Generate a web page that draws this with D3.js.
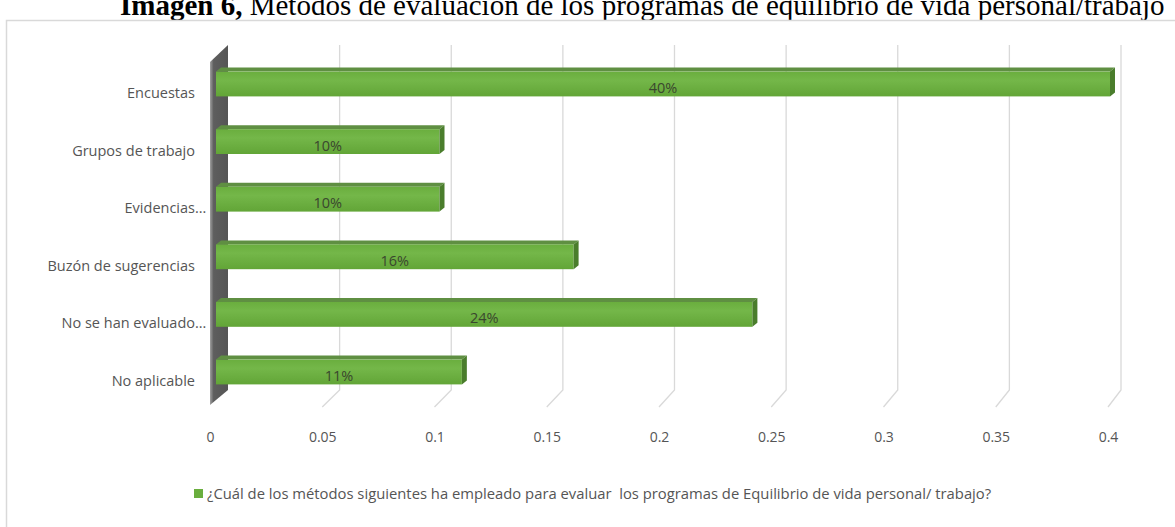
<!DOCTYPE html>
<html><head><meta charset="utf-8">
<script src="https://cdn.jsdelivr.net/npm/d3@7"></script>
<style>body{margin:0;background:#fff}svg{display:block}</style>
</head><body>
<svg id="c" width="1175" height="527"></svg>
<script>
const categories = ["Encuestas","Grupos de trabajo","Evidencias…","Buzón de sugerencias","No se han evaluado…","No aplicable"];
const values = [0.40,0.10,0.10,0.16,0.24,0.11];
const valueLabels = ["40%","10%","10%","16%","24%","11%"];
const tickValues = [0,0.05,0.1,0.15,0.2,0.25,0.3,0.35,0.4];
const tickLabels = ["0","0.05","0.1","0.15","0.2","0.25","0.3","0.35","0.4"];
const seriesName = "¿Cuál de los métodos siguientes ha empleado para evaluar  los programas de Equilibrio de vida personal/ trabajo?";
const titleBold = "Imagen 6, ";
const titleRest = "Métodos de evaluación de los programas de equilibrio de vida personal/trabajo";

const svg = d3.select("#c");
const font = "'Open Sans', sans-serif";
const grey = "#555555";

// title (partially cut off at top, as in the reference)
const t = svg.append("text").attr("x",120).attr("y",15)
  .attr("font-family","'Liberation Serif', 'Times New Roman', serif").attr("font-size",29).attr("fill","#000");
t.append("tspan").attr("font-weight","bold").text(titleBold);
t.append("tspan").text(titleRest);

// frame
svg.append("rect").attr("x",6.5).attr("y",20.5).attr("width",1180).attr("height",520)
  .attr("fill","#fff").attr("stroke","#d9d9d9").attr("stroke-width",1.5);

const xFront = d3.scaleLinear().domain([0,0.4]).range([210,1108]);
const xBack  = d3.scaleLinear().domain([0,0.4]).range([228,1121]);
const xBar   = d3.scaleLinear().domain([0,0.4]).range([216,1110]);
const y = d3.scaleBand().domain(categories).range([53.2,398.8]).paddingInner(0.5).paddingOuter(0.25);

const topY = 45, backFloor = 390, frontFloor = 407;

// gridlines
const grid = svg.append("g");
tickValues.forEach(v=>{
  if (v===0) return;
  grid.append("path")
    .attr("d",`M${xBack(v)},${topY}L${xBack(v)},${backFloor}L${xFront(v)},${frontFloor}`)
    .attr("fill","none").attr("stroke","#d9d9d9").attr("stroke-width",1.3);
});

// wall
const defs = svg.append("defs");
const wg = defs.append("linearGradient").attr("id","wg").attr("x1","0").attr("x2","1").attr("y1","0").attr("y2","0");
wg.append("stop").attr("offset","0").attr("stop-color","#a0a0a0");
wg.append("stop").attr("offset","0.2").attr("stop-color","#5e5e5e");
wg.append("stop").attr("offset","1").attr("stop-color","#555555");
svg.append("path")
  .attr("d",`M${xFront(0)},${62}L${xBack(0)},${topY}L${xBack(0)},${backFloor}L${xFront(0)},${frontFloor-2}Z`)
  .attr("fill","url(#wg)");

const bg = defs.append("linearGradient").attr("id","bg").attr("x1","0").attr("x2","0").attr("y1","0").attr("y2","1");
bg.append("stop").attr("offset","0").attr("stop-color","#6aae3e");
bg.append("stop").attr("offset","0.35").attr("stop-color","#74b749");
bg.append("stop").attr("offset","1").attr("stop-color","#62a537");

const dx = 5, dy = 4;
const bars = svg.append("g");
categories.forEach((c,i)=>{
  const y0 = y(c), h = y.bandwidth();
  const x0 = xBar(0), x1 = xBar(values[i]);
  bars.append("path").attr("d",`M${x0},${y0+dy}L${x1},${y0+dy}L${x1+dx},${y0}L${x0+dx},${y0}Z`).attr("fill","#5f8f42");
  bars.append("rect").attr("x",x0).attr("y",y0+dy).attr("width",x1-x0).attr("height",h-dy).attr("fill","url(#bg)");
  bars.append("path").attr("d",`M${x1},${y0+dy}L${x1+dx},${y0}L${x1+dx},${y0+h-dy}L${x1},${y0+h}Z`).attr("fill","#4a7d2c");
  bars.append("text").attr("x",(x0+x1)/2).attr("y",y0+h/2+6).attr("dy","0.35em")
    .attr("text-anchor","middle").attr("font-family",font).attr("font-size",14.5).attr("fill","#3a472e")
    .text(valueLabels[i]);
});

// category labels
const cl = svg.append("g").attr("font-family",font).attr("font-size",14.5).attr("fill",grey);
categories.forEach(c=>{
  const yy = y(c)+y.bandwidth()/2+11;
  const base = c.endsWith("…") ? c.slice(0,-1) : c;
  cl.append("text").attr("x",195).attr("y",yy).attr("dy","0.35em").attr("text-anchor","end").text(base);
  if (c.endsWith("…")) cl.append("text").attr("x",195).attr("y",yy).attr("dy","0.35em").text("…");
});

// x axis labels
const ax = d3.axisBottom(xFront).tickValues(tickValues).tickFormat((d,i)=>tickLabels[i]).tickSize(0).tickPadding(0);
const axg = svg.append("g").attr("transform","translate(0,432)").call(ax);
axg.select(".domain").remove();
axg.selectAll("text").attr("font-family",font).attr("font-size",14).attr("fill",grey);

// legend
svg.append("rect").attr("x",194).attr("y",489).attr("width",9).attr("height",9).attr("fill","#6aae3e");
svg.append("text").attr("x",207).attr("y",494).attr("dy","0.35em").attr("font-family",font).attr("font-size",14.8).attr("fill",grey)
  .style("white-space","pre")
  .text(seriesName);
</script>
</body></html>
